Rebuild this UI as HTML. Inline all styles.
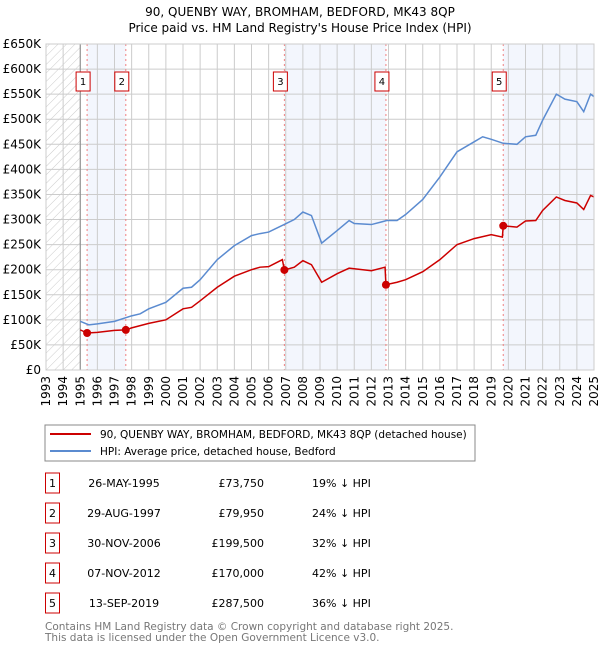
<!DOCTYPE html>
<html><head><meta charset="utf-8"><style>body{margin:0;background:#fff}svg{font-family:"DejaVu Sans","Liberation Sans",sans-serif}</style></head>
<body>
<svg id="c" width="600" height="650" xmlns="http://www.w3.org/2000/svg">
<defs><pattern id="hatch" width="6" height="6" patternUnits="userSpaceOnUse" patternTransform="rotate(45)"><line x1="0" y1="0" x2="0" y2="6" stroke="#ccc" stroke-width="1"/></pattern></defs>
<text x="300" y="16" text-anchor="middle" font-size="12">90, QUENBY WAY, BROMHAM, BEDFORD, MK43 8QP</text>
<text x="300" y="32" text-anchor="middle" font-size="12">Price paid vs. HM Land Registry's House Price Index (HPI)</text>
<g id="plot"></g>
<rect x="45" y="425" width="430" height="36" fill="#fff" stroke="#888"/>
<line x1="50" y1="434" x2="91" y2="434" stroke="#cc0000" stroke-width="2"/>
<text x="100" y="438" font-size="10.5">90, QUENBY WAY, BROMHAM, BEDFORD, MK43 8QP (detached house)</text>
<line x1="50" y1="451" x2="91" y2="451" stroke="#5b8bd0" stroke-width="2"/>
<text x="100" y="455" font-size="10.5">HPI: Average price, detached house, Bedford</text>
<g id="table" font-size="11"></g>
<text x="45" y="630" font-size="10.5" fill="#777">Contains HM Land Registry data © Crown copyright and database right 2025.</text>
<text x="45" y="641" font-size="10.5" fill="#777">This data is licensed under the Open Government Licence v3.0.</text>
</svg>
<script>
const yTicks=[0,50,100,150,200,250,300,350,400,450,500,550,600,650];
const yTickLabels=["£0","£50K","£100K","£150K","£200K","£250K","£300K","£350K","£400K","£450K","£500K","£550K","£600K","£650K"];
const xYears=[1993,1994,1995,1996,1997,1998,1999,2000,2001,2002,2003,2004,2005,2006,2007,2008,2009,2010,2011,2012,2013,2014,2015,2016,2017,2018,2019,2020,2021,2022,2023,2024,2025];
const hpiT=[1995,1995.5,1996,1997,1998,1998.5,1999,2000,2001,2001.5,2002,2003,2004,2005,2005.5,2006,2006.9,2007.5,2008,2008.5,2009.1,2010,2010.7,2011,2012,2012.9,2013.5,2014,2015,2016,2017,2018,2018.5,2019,2019.7,2020.5,2021,2021.6,2022,2022.8,2023.3,2024,2024.4,2024.8,2025];
const hpiV=[97,90,92,97,108,112,122,135,163,165,180,220,248,268,272,275,290,300,315,308,253,278,298,292,290,298,298,310,340,385,435,455,465,460,452,450,465,468,498,550,540,535,515,550,545];
const propT=[1995,1995.4,1996,1997,1997.66,1998,1999,2000,2001,2001.5,2002,2003,2004,2005,2005.5,2006,2006.8,2006.92,2007.5,2008,2008.5,2009.1,2010,2010.7,2012,2012.8,2012.85,2013.5,2014,2015,2016,2017,2018,2019,2019.65,2019.7,2020.5,2021,2021.6,2022,2022.8,2023.3,2024,2024.4,2024.8,2025];
const propV=[80,73.75,75,79,79.95,84,93,100,122,125,138,165,187,200,205,206,220,199.5,205,218,210,175,192,203,198,205,170,175,180,196,220,250,262,270,265,287.5,285,297,298,318,345,338,333,320,348,345];
const saleT=[1995.4,1997.66,2006.92,2012.85,2019.7];
const saleV=[73.75,79.95,199.5,170,287.5];
const saleLabels=["1","2","3","4","5"];
const saleDates=["26-MAY-1995","29-AUG-1997","30-NOV-2006","07-NOV-2012","13-SEP-2019"];
const salePrices=["£73,750","£79,950","£199,500","£170,000","£287,500"];
const salePct=["19% ↓ HPI","24% ↓ HPI","32% ↓ HPI","42% ↓ HPI","36% ↓ HPI"];
const X0=46,X1=594,Y0=370,Y1=44;
const xs=t=>X0+(t-1993)/32*(X1-X0);
const ys=v=>Y0-v/650*(Y0-Y1);
const NS="http://www.w3.org/2000/svg";
function mk(tag,attrs,parent){const e=document.createElementNS(NS,tag);for(const k in attrs)e.setAttribute(k,attrs[k]);parent.appendChild(e);return e;}
const g=document.getElementById('plot');
let r;
r=mk('rect',{x:X0,y:Y1,width:X1-X0,height:Y0-Y1,fill:'#fff'},g);


const bandStart=[saleT[0],saleT[2],saleT[4]],bandEnd=[saleT[1],saleT[3],2025];
for(let i=0;i<bandStart.length;i++){r=mk('rect',{x:xs(bandStart[i]),y:Y1,width:xs(bandEnd[i])-xs(bandStart[i]),height:Y0-Y1,fill:'#f3f6fd'},g);

}
r=mk('rect',{x:X0,y:Y1,width:xs(1995)-X0,height:Y0-Y1,fill:'url(#hatch)'},g);


for(let i=0;i<yTicks.length;i++){const y=ys(yTicks[i]);
let l=mk('line',{x1:X0,x2:X1,y1:y,y2:y,stroke:'#ccc'},g);


let t=mk('text',{x:41,y:y+4,'text-anchor':'end','font-size':12},g);t.textContent=yTickLabels[i];

}
for(const yr of xYears){const x=xs(yr);
let l=mk('line',{x1:x,x2:x,y1:Y1,y2:Y0,stroke:'#ccc'},g);


let t=mk('text',{x:0,y:0,'text-anchor':'end','font-size':12,transform:`translate(${x+4},376) rotate(-90)`},g);t.textContent=yr;

}
let l=mk('line',{x1:xs(1995),x2:xs(1995),y1:Y1,y2:Y0,stroke:'#888'},g);


for(let i=0;i<saleT.length;i++){const x=xs(saleT[i]);
let d=mk('line',{x1:x,x2:x,y1:Y1,y2:Y0,stroke:'#f08080','stroke-dasharray':'2,3'},g);

}
let p=mk('polyline',{points:hpiT.map((t,i)=>xs(t)+','+ys(hpiV[i])).join(' '),fill:'none',stroke:'#5b8bd0','stroke-width':1.5},g);


p=mk('polyline',{points:propT.map((t,i)=>xs(t)+','+ys(propV[i])).join(' '),fill:'none',stroke:'#cc0000','stroke-width':1.5},g);


for(let i=0;i<saleT.length;i++){const x=xs(saleT[i]);
let c=mk('circle',{cx:x,cy:ys(saleV[i]),r:4,fill:'#cc0000'},g);


let b=mk('rect',{x:x-11,y:72,width:14,height:19,fill:'#fff',stroke:'#cc0000'},g);


let t=mk('text',{x:x-4,y:85,'text-anchor':'middle','font-size':10},g);t.textContent=saleLabels[i];

}
let f=mk('rect',{x:X0,y:Y1,width:X1-X0,height:Y0-Y1,fill:'none',stroke:'#ccc'},g);


const tb=document.getElementById('table');
for(let i=0;i<saleT.length;i++){const cy=483+i*30;
let b=mk('rect',{x:45.5,y:cy-10,width:14,height:20,fill:'none',stroke:'#cc0000'},tb);


let t=mk('text',{x:52.5,y:cy+4,'text-anchor':'middle'},tb);t.textContent=saleLabels[i];


t=mk('text',{x:124,y:cy+4,'text-anchor':'middle'},tb);t.textContent=saleDates[i];


t=mk('text',{x:264,y:cy+4,'text-anchor':'end'},tb);t.textContent=salePrices[i];


t=mk('text',{x:312,y:cy+4},tb);t.textContent=salePct[i];

}
</script>
</body></html>
